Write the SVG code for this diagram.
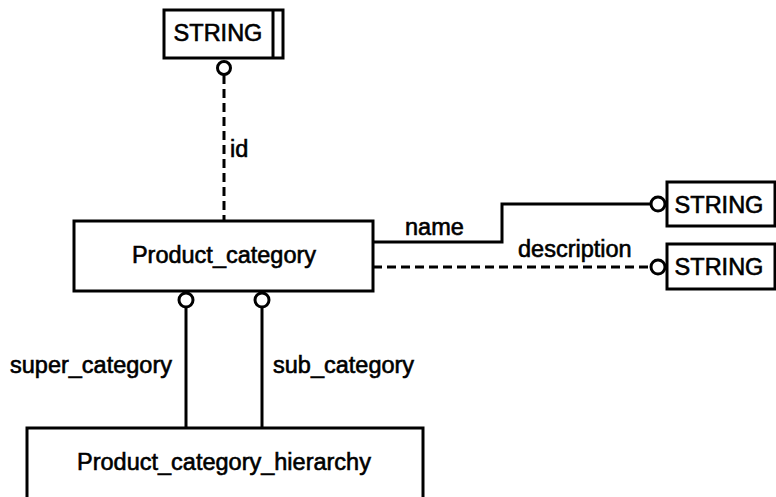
<svg xmlns="http://www.w3.org/2000/svg" width="776" height="497" viewBox="0 0 776 497">
<style>
.box{fill:#fff;stroke:#000;stroke-width:3}
.ln{fill:none;stroke:#000;stroke-width:3}
.dash{stroke-dasharray:9,5}
.circ{fill:#fff;stroke:#000;stroke-width:3}
text{font-family:"Liberation Sans",Arial,sans-serif;font-size:23.5px;fill:#000;stroke:#000;stroke-width:0.6}
.c{text-anchor:middle}
</style>
<rect width="776" height="497" fill="#fff"/>
<g id="connectors">
<line class="ln dash" x1="224" y1="75" x2="224" y2="221"/>
<polyline class="ln" points="373,242 502,242 502,204 650,204"/>
<line class="ln dash" x1="373" y1="267" x2="650" y2="267"/>
<line class="ln" x1="186" y1="307" x2="186" y2="428"/>
<line class="ln" x1="262" y1="307" x2="262" y2="428"/>
<circle class="circ" cx="224" cy="68" r="6.5"/>
<circle class="circ" cx="658" cy="204" r="7"/>
<circle class="circ" cx="658" cy="267" r="7"/>
<circle class="circ" cx="186" cy="300" r="7"/>
<circle class="circ" cx="262" cy="300" r="7"/>
<text x="230" y="157">id</text>
<text x="405" y="235">name</text>
<text x="518" y="257">description</text>
<text x="10" y="373">super_category</text>
<text x="273" y="373">sub_category</text>
</g>
<g id="string_top">
<rect class="box" x="164" y="10" width="119" height="48"/>
<line class="ln" x1="273" y1="10" x2="273" y2="58"/>
<text class="c" x="218" y="41">STRING</text>
</g>
<g id="product_category">
<rect class="box" x="74" y="221" width="299" height="70"/>
<text class="c" x="224" y="263">Product_category</text>
</g>
<g id="string_name">
<rect class="box" x="667" y="182" width="118" height="44"/>
<line class="ln" x1="775" y1="182" x2="775" y2="226"/>
<text class="c" x="719" y="213">STRING</text>
</g>
<g id="string_description">
<rect class="box" x="667" y="244" width="118" height="45"/>
<line class="ln" x1="775" y1="244" x2="775" y2="289"/>
<text class="c" x="719" y="275">STRING</text>
</g>
<g id="product_category_hierarchy">
<rect class="box" x="27" y="428" width="396" height="90"/>
<text class="c" x="224" y="470">Product_category_hierarchy</text>
</g>
</svg>
